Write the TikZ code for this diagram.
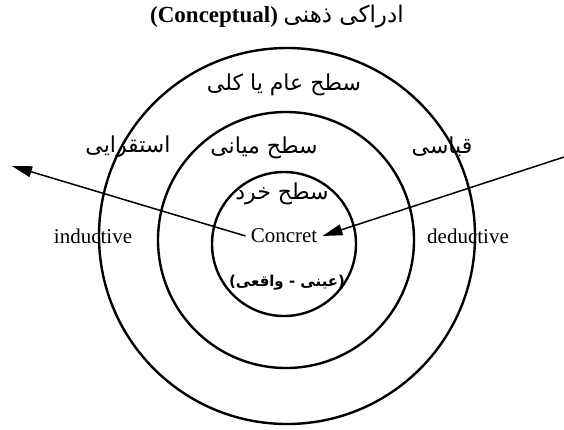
\documentclass[tikz,border=0pt]{standalone}
\usepackage{fontspec}
\setmainfont{Liberation Serif}
\newfontfamily\farsi[Script=Arabic]{DejaVu Sans}
\TeXXeTstate=1
\usetikzlibrary{arrows.meta}

\begin{document}
\begin{tikzpicture}[x=1pt,y=-1pt,
    ring/.style={line width=2.4pt},
    flow/.style={line width=1.5pt,-{Triangle[length=20pt,width=11pt]}},
    latin/.style={font=\fontsize{21}{24}\selectfont},
    fa/.style={font=\fontsize{22}{26}\selectfont\farsi}]
  \useasboundingbox (0,0) rectangle (564,429);

  % rings
  \draw[ring] (287,236) circle[radius=188pt];
  \draw[ring] (286,240) circle[radius=128pt];
  \draw[ring] (284,244) circle[radius=72pt];

  % title
  \node (title) at (277,17) {\fontsize{23}{27}\selectfont\textbf{(Conceptual)} {\farsi\beginR ادراکی ذهنی\endR}};

  % levels
  \node[fa] (general) at (284,85) {\beginR سطح عام یا کلی\endR};
  \node[fa] (middle) at (264,148) {\beginR سطح میانی\endR};
  \node[fa] (micro) at (282,194) {\beginR سطح خرد\endR};
  \node[fa] (induct) at (128,147) {\beginR استقرایی\endR};
  \node[fa] (deduct) at (442,147) {\beginR قیاسی\endR};

  % centre
  \node[latin,inner sep=5pt] (concret) at (284,236) {Concret};
  \node[fa,font=\fontsize{15}{20}\selectfont\farsi\bfseries] (real) at (287,283) {\beginR(عینی - واقعی)\endR};

  % sides
  \node[latin] (inductive) at (93,236) {inductive};
  \node[latin] (deductive) at (468,236) {deductive};

  % arrows
  \coordinate (indend) at (12,166);
  \coordinate (dedstart) at (564,157);
  \draw[flow] (concret.west) -- (indend);
  \draw[flow] (dedstart) -- (concret.east);
\end{tikzpicture}
\end{document}
